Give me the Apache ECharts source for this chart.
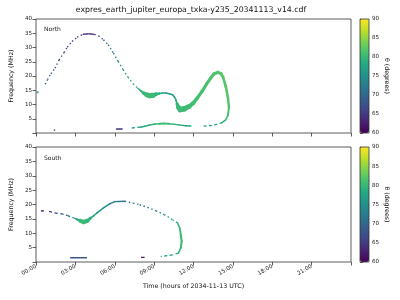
<!DOCTYPE html>
<html><head><meta charset="utf-8">
<script src="https://cdn.jsdelivr.net/npm/echarts@6/dist/echarts.min.js"></script>
<style>html,body{margin:0;padding:0;background:#fff}#c{width:400px;height:300px}</style>
</head><body><div id="c"></div>
<script>
// ---- data: [hours, MHz, theta(deg), band spread (MHz)] ----
const xTickHours = [0,3,6,9,12,15,18,21,24];
const yTicks = [5,10,15,20,25,30,35,40];
const cbTicks = [60,65,70,75,80,85,90];

const northDot = [[0.12,14.3,72]];
const northArcA = [[0.7,17.1,69,0],[0.87,18.7,69,0],[1.13,20.8,68,0],[1.45,22.7,68,0],[1.75,25.6,67,0],[2.13,28.2,67,0],[2.38,30.1,66,0],[2.75,32.1,66,0],[3.13,33.6,65,0],[3.55,34.6,64,0]];
const northArcTop = [[3.55,34.6,64,0],[4.0,34.8,63.5,0],[4.45,34.6,64,0]];
const northArcB = [[4.45,34.6,64,0],[4.76,34.1,66,0],[5.14,32.7,68,0],[5.5,31.0,70,0],[5.9,28.0,72,0],[6.26,25.1,73,0],[6.64,22.2,75,0],[7.0,19.6,76,0],[7.4,17.3,77,0],[7.77,15.7,78,0]];
const northBand = [[7.77,15.7,78,0.3],[8.0,14.7,79,0.6],[8.2,14.0,80,1.0],[8.45,13.4,80.5,1.6],[8.65,13.1,80.5,1.9],[8.9,13.2,80.5,1.7],[9.14,13.6,80,1.1],[9.4,13.85,79,0.6],[9.64,14.0,78,0.3],[9.9,14.0,77,0.2],[10.15,13.8,76,0.2],[10.4,13.4,76,0.2],[10.55,12.6,77,0.3],[10.65,11.7,78,0.4],[10.75,10.2,79,0.8],[10.85,9.0,80,1.5],[11.0,8.2,80.5,2.0],[11.3,8.5,80.5,1.9],[11.65,9.3,80.5,1.6],[12.0,10.6,81,1.3],[12.28,12.2,81,1.2],[12.65,14.6,81,1.1],[13.0,17.2,81,1.1],[13.28,19.1,81.5,1.1],[13.55,20.7,81.5,1.1],[13.86,21.3,81.5,1.1],[14.1,20.8,82,1.0],[14.25,19.6,82,1.0],[14.46,16.3,82,0.9],[14.62,12.5,82,0.9],[14.7,9.0,81.5,0.8],[14.62,6.2,81,0.6],[14.45,4.6,80,0.4],[14.2,3.7,79,0.3]];
const northTail = [[14.2,3.7,79,0],[13.8,3.0,78,0],[13.4,2.7,77,0],[13.0,2.5,76,0],[12.65,2.35,76,0]];
const northLowA = [[7.3,1.75,76,0],[7.95,2.05,77,0]];
const northLowB = [[7.95,2.05,77,0],[8.3,2.4,78,0.1],[8.65,2.8,79,0.3],[9.0,3.1,80,0.5],[9.4,3.25,80.5,0.7],[9.8,3.3,80.5,0.7],[10.15,3.25,80.5,0.6],[10.5,3.05,80,0.4],[10.9,2.85,79,0.2],[11.4,2.55,78,0],[11.8,2.45,77,0]];
const northMark1 = [[1.35,1.0,62,0],[1.6,1.0,62,0]];
const northMark2 = [[6.1,1.4,64,0],[6.6,1.4,64,0]];

const southDash0 = [[0.37,17.8,60.5,0],[0.6,17.8,60.5,0]];
const southArcA = [[1.0,17.6,64,0],[1.43,17.1,66,0],[1.88,16.8,68,0],[2.38,16.2,71,0],[2.88,15.3,74,0],[3.1,14.9,77,0]];
const southBand = [[3.1,14.9,77,0.3],[3.38,14.3,79.5,1.2],[3.63,13.9,80.5,1.7],[3.9,14.3,80,1.3],[4.13,15.2,79,0.8],[4.4,16.1,78,0.4],[4.63,17.0,77,0.2],[5.14,18.8,75,0],[5.64,20.3,74,0],[6.0,21.0,72,0],[6.77,21.1,71,0]];
const southArcB = [[6.77,21.1,71,0],[7.4,20.5,71,0],[7.9,19.9,71,0],[8.5,19.0,72,0],[9.14,17.8,73,0],[9.77,16.5,75,0],[10.4,14.7,77,0],[10.78,13.6,79,0]];
const southVert = [[10.78,13.6,79,0.4],[10.95,11.8,80,0.6],[11.03,9.5,80.5,0.7],[11.1,7.2,80.5,0.8],[11.03,4.9,80,0.6],[10.85,3.1,79,0.3]];
const southTail = [[10.85,3.1,79,0],[10.4,2.5,78,0],[10.0,2.2,77,0],[9.5,1.95,76,0]];
const southMark1 = [[2.6,1.5,68,0],[3.88,1.5,68,0]];
const southMark2 = [[8.0,1.6,62,0],[8.27,1.6,62,0]];

// ---- styling / helpers ----
const VIR = ['#440154','#482475','#414487','#355f8d','#2a788e','#21918c','#22a884','#44bf70','#7ad151','#bddf26','#fde725'];
function hex(c){return [parseInt(c.substr(1,2),16),parseInt(c.substr(3,2),16),parseInt(c.substr(5,2),16)];}
function viridis(th){
  let u=Math.max(0,Math.min(1,(th-60)/30))*10; let i=Math.min(9,Math.floor(u)); let f=u-i;
  const a=hex(VIR[i]), b=hex(VIR[i+1]);
  return 'rgb('+a.map((v,k)=>Math.round(v+(b[k]-v)*f)).join(',')+')';
}
const FONT='DejaVu Sans';
const G=[{left:32,top:19,width:319,height:114},{left:32,top:147,width:319,height:115}];
const series=[];
function addSeg(pts, gi, style){
  const pxPerMHz = G[gi].height/40;
  for(let i=0;i<pts.length-1;i++){
    const a=pts[i], b=pts[i+1];
    let w=1.4, type='solid', cap='butt';
    if(style==='dot'){w=1.4;type=[1.4,2.6];}
    else if(style==='dash'){w=1.3;type=[3,2.5];}
    else if(style==='band'){w=Math.max(1.5,(a[3]+b[3])/2*pxPerMHz);cap='round';}
    else if(style==='solid'){w=1.4;}
    series.push({type:'line',xAxisIndex:gi,yAxisIndex:gi,data:[[a[0],a[1]],[b[0],b[1]]],showSymbol:false,silent:true,animation:false,
      lineStyle:{color:viridis((a[2]+b[2])/2),width:w,type:type,cap:cap}});
  }
}
addSeg(northArcA,0,'dot'); addSeg(northArcTop,0,'solid'); addSeg(northArcB,0,'dot');
addSeg(northBand,0,'band'); addSeg(northTail,0,'dash'); addSeg(northLowA,0,'dash'); addSeg(northLowB,0,'band');
addSeg(northMark1,0,'dot'); addSeg(northMark2,0,'solid');
addSeg(southDash0,1,'solid'); addSeg(southArcA,1,'dash'); addSeg(southBand,1,'band'); addSeg(southArcB,1,'dot');
addSeg(southVert,1,'band'); addSeg(southTail,1,'dash'); addSeg(southMark1,1,'solid'); addSeg(southMark2,1,'solid');
series.push({type:'scatter',xAxisIndex:0,yAxisIndex:0,symbol:'rect',symbolSize:2,silent:true,animation:false,
  data:northDot.map(p=>[p[0],p[1]]),itemStyle:{color:viridis(northDot[0][2])}});
const dummyIdx=series.length;
series.push({type:'scatter',xAxisIndex:0,yAxisIndex:0,data:[],silent:true});

function fmtH(v){return v>=24?'':(v<10?'0':'')+v+':00';}
const grids=[
  Object.assign({show:true,borderColor:'#333',borderWidth:0.8,backgroundColor:'transparent'},G[0]),
  Object.assign({show:true,borderColor:'#333',borderWidth:0.8,backgroundColor:'transparent'},G[1]),
  {left:360,top:G[0].top,width:9,height:G[0].height,show:true,borderColor:'#333',borderWidth:0.8,backgroundColor:'transparent',z:6},
  {left:360,top:G[1].top,width:9,height:G[1].height,show:true,borderColor:'#333',borderWidth:0.8,backgroundColor:'transparent',z:6}
];
const lab={fontFamily:FONT,fontSize:5.6,color:'#222'};
const xAxes=[0,1].map(gi=>({type:'value',gridIndex:gi,min:0,max:24,interval:3,axisLine:{show:false},
  axisTick:{show:true,length:3.5,lineStyle:{color:'#333',width:0.8}},splitLine:{show:false},
  axisLabel:gi===1?Object.assign({show:true,rotate:30,margin:4,formatter:fmtH},lab):{show:false},
  name:gi===1?'Time (hours of 2034-11-13 UTC)':'',nameLocation:'middle',nameGap:21,nameTextStyle:{fontFamily:FONT,fontSize:6.3,color:'#111'}}));
const yAxes=[0,1].map(gi=>({type:'value',gridIndex:gi,min:0,max:40,interval:5,axisLine:{show:false},
  axisTick:{show:true,length:3.5,lineStyle:{color:'#333',width:0.8}},splitLine:{show:false},
  axisLabel:Object.assign({margin:4,formatter:v=>yTicks.indexOf(v)>=0?String(v):''},lab),
  name:'Frequency (MHz)',nameLocation:'middle',nameGap:18,nameTextStyle:{fontFamily:FONT,fontSize:6.3,color:'#111'}}));
[2,3].forEach(gi=>{
  xAxes.push({type:'value',gridIndex:gi,show:false,min:0,max:1});
  yAxes.push({type:'value',gridIndex:gi,min:cbTicks[0],max:cbTicks[cbTicks.length-1],interval:5,position:'right',
    axisLine:{show:false},axisTick:{show:true,length:3,lineStyle:{color:'#333',width:0.8}},splitLine:{show:false},
    axisLabel:Object.assign({margin:3},lab),
    name:'θ (degrees)',nameLocation:'middle',nameRotate:-90,nameGap:15,nameTextStyle:{fontFamily:FONT,fontSize:6.3,color:'#111',fontStyle:'normal'}});
});
const vms=[0,1].map(gi=>({type:'continuous',min:60,max:90,seriesIndex:dummyIdx,left:360,top:G[gi].top,
  itemWidth:9,itemHeight:G[gi].height,padding:0,calculable:false,realtime:false,orient:'vertical',
  inRange:{color:VIR},textStyle:{fontSize:1,color:'rgba(0,0,0,0)'},hoverLink:false}));

const chart=echarts.init(document.getElementById('c'),null,{renderer:'canvas'});
chart.setOption({
  animation:false,
  backgroundColor:'#fff',
  title:{text:'expres_earth_jupiter_europa_txka-y235_20341113_v14.cdf',left:191,textAlign:'center',top:6,padding:0,
    textStyle:{fontFamily:FONT,fontSize:7.8,fontWeight:'normal',color:'#111'}},
  grid:grids, xAxis:xAxes, yAxis:yAxes, visualMap:vms, series:series,
  graphic:[
    {type:'text',left:44,top:26.5,style:{text:'North',font:'6px "DejaVu Sans"',fill:'#222'}},
    {type:'text',left:44,top:155,style:{text:'South',font:'6px "DejaVu Sans"',fill:'#222'}}
  ]
});
</script></body></html>
